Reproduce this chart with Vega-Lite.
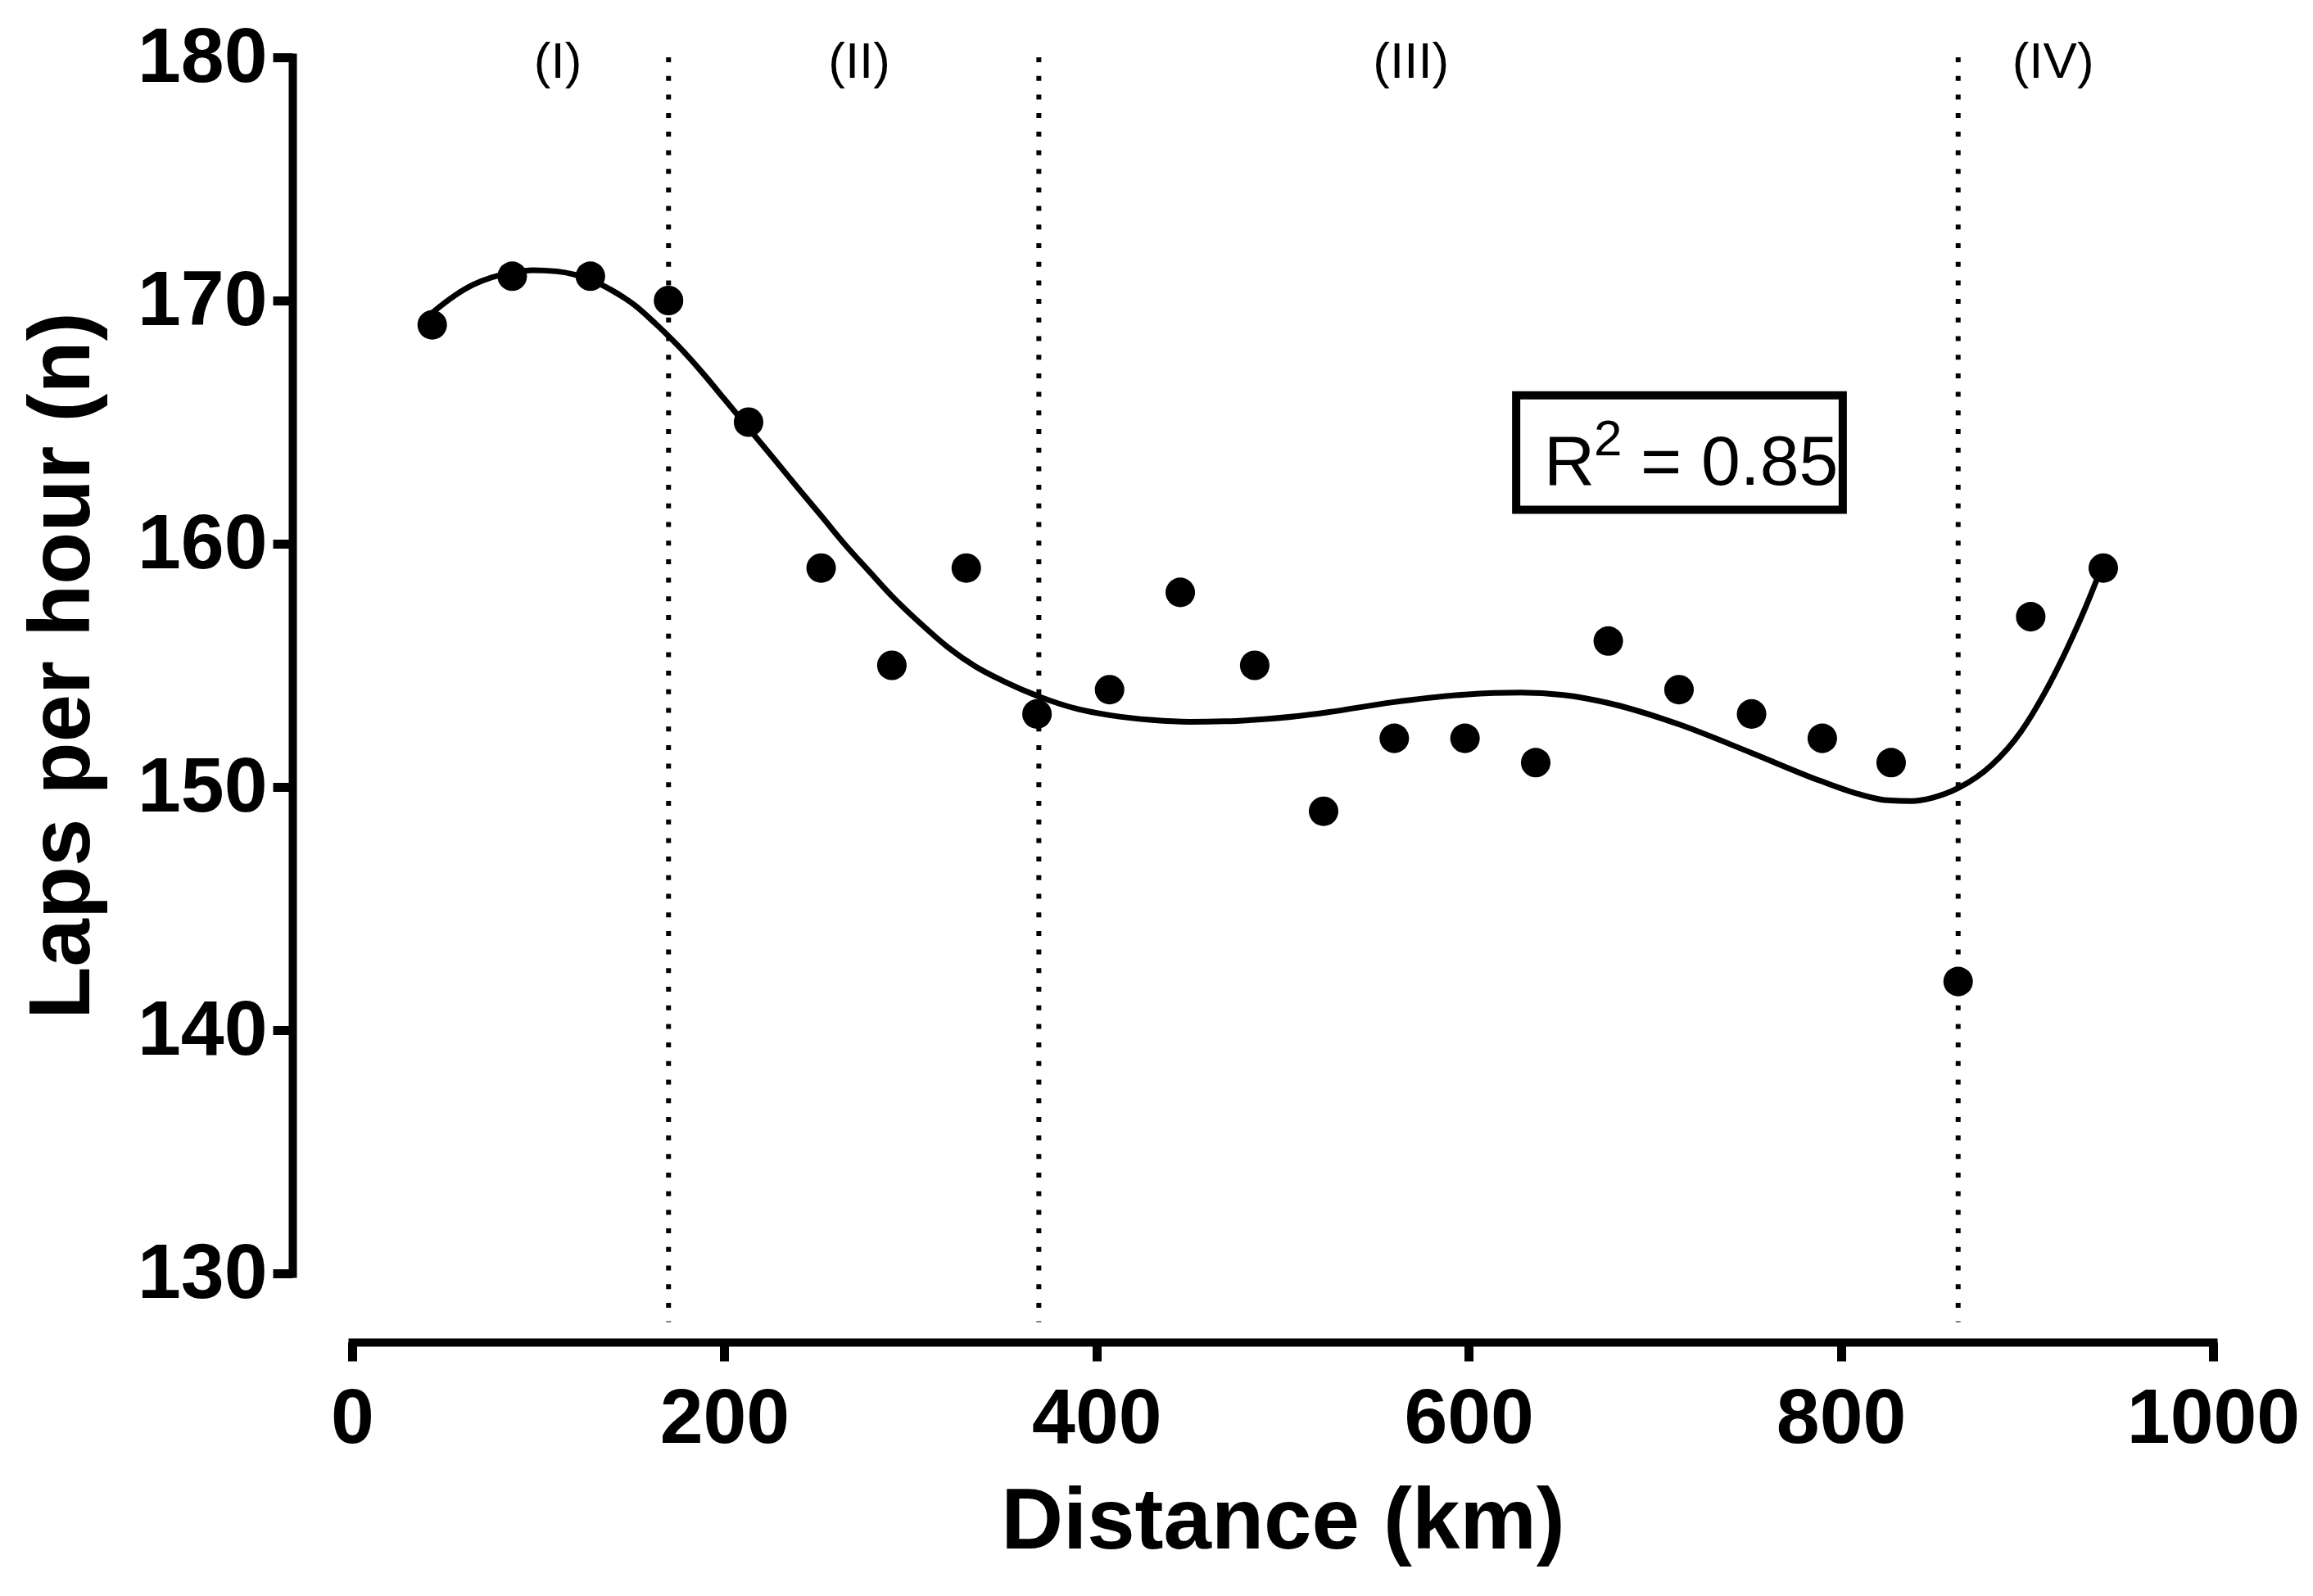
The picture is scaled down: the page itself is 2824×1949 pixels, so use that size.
{
  "$schema": "https://vega.github.io/schema/vega-lite/v6.json",
  "width": 2272,
  "height": 1485,
  "autosize": {"type": "none"},
  "padding": {"left": 430, "top": 70, "right": 122, "bottom": 394},
  "background": "white",
  "config": {"view": {"stroke": null}, "font": "Liberation Sans"},
  "datasets": {
    "points": [
      {"km": 43, "lap": 169}, {"km": 86, "lap": 171}, {"km": 128, "lap": 171}, {"km": 170, "lap": 170},
      {"km": 213, "lap": 165}, {"km": 252, "lap": 159}, {"km": 290, "lap": 155}, {"km": 330, "lap": 159},
      {"km": 368, "lap": 153}, {"km": 407, "lap": 154}, {"km": 445, "lap": 158}, {"km": 485, "lap": 155},
      {"km": 522, "lap": 149}, {"km": 560, "lap": 152}, {"km": 598, "lap": 152}, {"km": 636, "lap": 151},
      {"km": 675, "lap": 156}, {"km": 713, "lap": 154}, {"km": 752, "lap": 153}, {"km": 790, "lap": 152},
      {"km": 827, "lap": 151}, {"km": 863, "lap": 142}, {"km": 902, "lap": 157}, {"km": 941, "lap": 159}
    ],
    "curve": [
      {"km": 43, "lap": 169.5}, {"km": 55, "lap": 170.2}, {"km": 65, "lap": 170.65}, {"km": 75, "lap": 170.95},
      {"km": 86, "lap": 171.15}, {"km": 97, "lap": 171.25}, {"km": 110, "lap": 171.2}, {"km": 128, "lap": 170.85},
      {"km": 140, "lap": 170.4}, {"km": 152, "lap": 169.8}, {"km": 163, "lap": 169.05}, {"km": 175, "lap": 168.15},
      {"km": 188, "lap": 167.05}, {"km": 200, "lap": 165.95}, {"km": 213, "lap": 164.75}, {"km": 226, "lap": 163.55},
      {"km": 240, "lap": 162.25}, {"km": 252, "lap": 161.15}, {"km": 265, "lap": 159.95}, {"km": 278, "lap": 158.85},
      {"km": 290, "lap": 157.85}, {"km": 305, "lap": 156.75}, {"km": 320, "lap": 155.75}, {"km": 335, "lap": 154.95},
      {"km": 350, "lap": 154.35}, {"km": 368, "lap": 153.75}, {"km": 390, "lap": 153.2}, {"km": 407, "lap": 152.95},
      {"km": 430, "lap": 152.75}, {"km": 450, "lap": 152.68}, {"km": 469, "lap": 152.7}, {"km": 485, "lap": 152.76},
      {"km": 509, "lap": 152.92}, {"km": 525, "lap": 153.08}, {"km": 559, "lap": 153.48}, {"km": 598, "lap": 153.8},
      {"km": 628, "lap": 153.88}, {"km": 651, "lap": 153.78}, {"km": 675, "lap": 153.45}, {"km": 712, "lap": 152.6},
      {"km": 752, "lap": 151.4}, {"km": 789, "lap": 150.25}, {"km": 810, "lap": 149.7}, {"km": 825, "lap": 149.45},
      {"km": 838, "lap": 149.42}, {"km": 849, "lap": 149.55}, {"km": 863, "lap": 149.95}, {"km": 881, "lap": 150.9},
      {"km": 897, "lap": 152.3}, {"km": 909, "lap": 153.8}, {"km": 921, "lap": 155.6}, {"km": 931, "lap": 157.3},
      {"km": 941, "lap": 159.2}
    ],
    "dividers": [
      {"km": 170, "lap": 180, "lap2": 128},
      {"km": 369, "lap": 180, "lap2": 128},
      {"km": 863, "lap": 180, "lap2": 128}
    ],
    "phases": [
      {"km": 110.5, "lap": 179.8, "label": "(I)"},
      {"km": 272.5, "lap": 179.8, "label": "(II)"},
      {"km": 569, "lap": 179.8, "label": "(III)"},
      {"km": 914, "lap": 179.8, "label": "(IV)"}
    ],
    "box": [{"km": 625.5, "km2": 801, "lap": 166.1, "lap2": 161.4}],
    "r2": [
      {"km": 640.4, "lap": 162.42, "label": "R"},
      {"km": 692.3, "lap": 162.42, "label": "= 0.85"}
    ],
    "r2sup": [{"km": 667.3, "lap": 163.64, "label": "2"}]
  },
  "encoding": {
    "x": {
      "field": "km",
      "type": "quantitative",
      "scale": {"domain": [0, 1000], "nice": false, "zero": false},
      "axis": {
        "title": "Distance (km)",
        "values": [0, 200, 400, 600, 800, 1000],
        "format": "d",
        "offset": 84,
        "grid": false,
        "domainColor": "black",
        "domainWidth": 10,
        "domainCap": "square",
        "tickColor": "black",
        "tickWidth": 11,
        "tickSize": 23,
        "labelFont": "Liberation Sans",
        "labelFontSize": 95,
        "labelFontWeight": "bold",
        "labelColor": "black",
        "labelPadding": 24,
        "labelLimit": 0,
        "labelFlush": false,
        "labelOverlap": false,
        "labelBound": false,
        "titleFont": "Liberation Sans",
        "titleFontSize": 105,
        "titleFontWeight": "bold",
        "titleColor": "black",
        "titlePadding": 27
      }
    },
    "y": {
      "field": "lap",
      "type": "quantitative",
      "scale": {"domain": [130, 180], "nice": false, "zero": false},
      "axis": {
        "title": "Laps per hour (n)",
        "values": [130, 140, 150, 160, 170, 180],
        "offset": 73,
        "grid": false,
        "domainColor": "black",
        "domainWidth": 10,
        "domainCap": "square",
        "tickColor": "black",
        "tickWidth": 11,
        "tickSize": 24,
        "labelFont": "Liberation Sans",
        "labelFontSize": 95,
        "labelFontWeight": "bold",
        "labelColor": "black",
        "labelPadding": 7,
        "labelLimit": 0,
        "labelFlush": false,
        "labelOverlap": false,
        "labelBound": false,
        "titleFont": "Liberation Sans",
        "titleFontSize": 105,
        "titleFontWeight": "bold",
        "titleColor": "black",
        "titlePadding": 37
      }
    }
  },
  "layer": [
    {
      "data": {"name": "dividers"},
      "mark": {"type": "rule", "color": "black", "strokeWidth": 6, "strokeDash": [6, 16.7]},
      "encoding": {
        "y2": {"field": "lap2"}
      }
    },
    {
      "data": {"name": "curve"},
      "mark": {"type": "line", "color": "black", "strokeWidth": 7, "interpolate": "monotone"}
    },
    {
      "data": {"name": "points"},
      "mark": {"type": "point", "shape": "circle", "filled": true, "color": "black", "opacity": 1, "size": 1300, "strokeWidth": 0}
    },
    {
      "data": {"name": "box"},
      "mark": {"type": "rect", "fill": null, "fillOpacity": 0, "stroke": "black", "strokeWidth": 10},
      "encoding": {
        "x2": {"field": "km2"},
        "y2": {"field": "lap2"}
      }
    },
    {
      "data": {"name": "r2"},
      "mark": {"type": "text", "align": "left", "baseline": "alphabetic", "fontSize": 86, "font": "Liberation Sans", "color": "black"},
      "encoding": {"text": {"field": "label"}}
    },
    {
      "data": {"name": "r2sup"},
      "mark": {"type": "text", "align": "left", "baseline": "alphabetic", "fontSize": 62, "font": "Liberation Sans", "color": "black"},
      "encoding": {"text": {"field": "label"}}
    },
    {
      "data": {"name": "phases"},
      "mark": {"type": "text", "align": "center", "baseline": "middle", "fontSize": 62, "font": "Liberation Sans", "color": "black"},
      "encoding": {"text": {"field": "label"}}
    }
  ]
}
